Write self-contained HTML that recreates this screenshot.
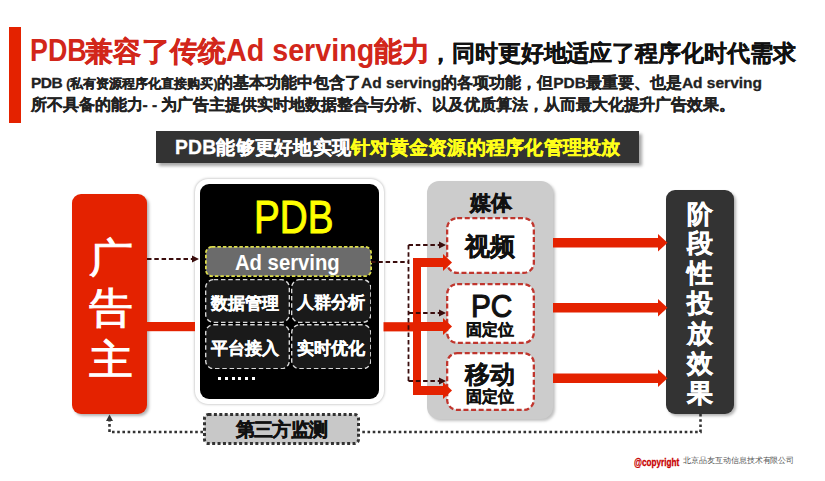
<!DOCTYPE html>
<html><head><meta charset="utf-8">
<style>
*{margin:0;padding:0;box-sizing:border-box}
html,body{width:825px;height:481px;overflow:hidden;background:#fff;font-family:"Liberation Sans",sans-serif}
.a{position:absolute;white-space:nowrap}
#bar{left:9px;top:27px;width:12px;height:96px;background:#e42200}
.tr{font-weight:bold;color:#d2261a;line-height:36px;transform-origin:0 0}
.tc{font-size:28.4px;-webkit-text-stroke:0.4px #d2261a}
#t2{left:429px;top:38px;font-size:23px;line-height:30px;font-weight:bold;color:#111;letter-spacing:-0.1px;-webkit-text-stroke:0.3px #111}
.sub{left:31px;font-size:15.5px;font-weight:bold;color:#222;line-height:20px;-webkit-text-stroke:0.3px #222}
.sub .s{font-size:12.5px;margin:0 -0.5px 0 4px}
#banner{left:156px;top:131px;width:483px;height:32px;background:#333;box-shadow:3px 3px 3px rgba(0,0,0,.35)}
#banner span.t{position:absolute;-webkit-text-stroke:0.3px currentColor;left:19px;top:5px;letter-spacing:0.25px;font-size:19.3px;font-weight:bold;color:#fff;line-height:24px}
#banner .y{color:#ffff19}
#adv{left:72px;top:194px;width:75px;height:220px;background:#e42200;border-radius:9px;box-shadow:2px 2px 3px rgba(0,0,0,.3)}
.advc{left:89px;font-size:41px;color:#fff;line-height:41px;transform:scaleX(1.07);transform-origin:0 0;-webkit-text-stroke:1px #fff}
#pdb{left:195px;top:179px;width:189px;height:225px;background:#fff;border-radius:13px;box-shadow:0 0 3px rgba(0,0,0,.35)}
#pdbi{left:200px;top:184px;width:179px;height:215px;background:#000;border-radius:9px}
#pdbt{left:254px;top:193px;font-size:46px;color:#ffff00;line-height:48px;transform:scaleX(0.84);transform-origin:0 0;-webkit-text-stroke:1px #ffff00}
#ads{left:204px;top:246px;width:167px;height:31px;background:#6b6b6b;border:2px dashed #e6e64a;border-radius:6px}
#adst{left:235px;top:251px;font-size:22.5px;font-weight:bold;color:#fff;line-height:24px;transform:scaleX(0.9);transform-origin:0 0}
.cell{width:85px;height:44px;background:#1a1a1a;border:1.5px dashed #ddd;border-radius:8px}
.cellt{font-size:17px;font-weight:bold;color:#fff;line-height:20px;-webkit-text-stroke:0.3px #fff}
#media{left:427px;top:181px;width:126px;height:238px;background:#cccccc;border-radius:12px;box-shadow:2px 2px 3px rgba(0,0,0,.25)}
#mediat{left:469.5px;top:191.5px;font-size:20.5px;-webkit-text-stroke:0.6px #111;font-weight:bold;color:#111;line-height:22px}
.mc{left:446px;width:89px;background:#fff;border:2.5px dashed #c0362e;border-radius:11px}
.mct{font-weight:bold;color:#111;-webkit-text-stroke:0.35px #111}
#res{left:666px;top:190px;width:68px;height:224px;background:#333;border-radius:9px;box-shadow:2px 2px 3px rgba(0,0,0,.3)}
.resc{left:687px;font-size:26px;font-weight:bold;color:#fff;line-height:26px;-webkit-text-stroke:0.4px #fff}
#mon{left:203px;top:413px;width:157px;height:32px;background:#c8c8c8;border:3px dotted #333;border-radius:4px}
#mont{left:236px;top:419px;font-size:19px;font-weight:bold;color:#111;line-height:22px;-webkit-text-stroke:0.5px #111;letter-spacing:-0.8px}
#copy{left:634px;top:455px;font-size:8px;line-height:12px;color:#555}
#cb{left:634px;top:456px;font-size:10.5px;line-height:12px;font-weight:bold;color:#c80000;transform:scaleX(0.78);transform-origin:0 0;-webkit-text-stroke:0.3px #c80000}
#cn{left:683px;top:456px;font-size:8.2px;line-height:10px;color:#555;letter-spacing:-0.05px}
svg{position:absolute;left:0;top:0}
svg.bx{position:absolute}
</style></head><body>
<div class="a" id="bar"></div>
<div class="a tr" style="left:29.5px;top:31.7px;font-size:30.5px;transform:scaleX(0.88)">PDB</div>
<div class="a tr tc" style="left:85px;top:32.8px;letter-spacing:0.35px">兼容了传统</div>
<div class="a tr" style="left:225.5px;top:31.7px;font-size:30.5px;transform:scaleX(0.94)">Ad serving</div>
<div class="a tr tc" style="left:373.5px;top:32.8px;letter-spacing:0px">能力</div>
<div class="a" id="t2">，同时更好地适应了程序化时代需求</div>
<div class="a sub" style="top:73px"><span style="letter-spacing:-0.5px">PDB</span><span class="s">(私有资源程序化直接购买)</span>的基本功能中包含了Ad serving的各项功能，但PDB最重要、也是Ad serving</div>
<div class="a sub" style="top:95px;letter-spacing:-0.06px">所不具备的能力- - 为广告主提供实时地数据整合与分析、以及优质算法，从而最大化提升广告效果。</div>
<div class="a" id="banner"><span class="t">PDB能够更好地实现<span class="y">针对黄金资源的程序化管理投放</span></span></div>

<div class="a" id="adv"></div>
<div class="a advc" style="top:238px">广</div>
<div class="a advc" style="top:288px">告</div>
<div class="a advc" style="top:340px">主</div>

<div class="a" id="pdb"></div>
<div class="a" id="pdbi"></div>
<div class="a" id="pdbt">PDB</div>
<svg class="bx" style="left:204.5px;top:246px" width="167" height="31"><rect x="0.9" y="0.9" width="165.2" height="29.2" rx="6" fill="#6b6b6b" stroke="#dcdc4c" stroke-width="1.8" stroke-dasharray="3.5,2"/></svg>
<div class="a" id="adst">Ad serving</div>
<svg class="bx" style="left:204.5px;top:278.5px" width="85" height="44"><rect x="0.65" y="0.65" width="83.7" height="42.7" rx="8" fill="#1a1a1a" stroke="#d8d8d8" stroke-width="1.4" stroke-dasharray="4.5,2.8"/></svg>
<svg class="bx" style="left:290.5px;top:278.5px" width="80.5" height="44"><rect x="0.65" y="0.65" width="79.2" height="42.7" rx="8" fill="#1a1a1a" stroke="#d8d8d8" stroke-width="1.4" stroke-dasharray="4.5,2.8"/></svg>
<svg class="bx" style="left:204.5px;top:323.5px" width="85" height="45.5"><rect x="0.7" y="0.7" width="83.6" height="44.1" rx="8" fill="#1a1a1a" stroke="#d8d8d8" stroke-width="1.4" stroke-dasharray="4.5,2.8"/></svg>
<svg class="bx" style="left:290.5px;top:323.5px" width="80.5" height="45.5"><rect x="0.7" y="0.7" width="79.1" height="44.1" rx="8" fill="#1a1a1a" stroke="#d8d8d8" stroke-width="1.4" stroke-dasharray="4.5,2.8"/></svg>
<div class="a cellt" style="left:211px;top:294px">数据管理</div>
<div class="a cellt" style="left:297px;top:293px">人群分析</div>
<div class="a cellt" style="left:211px;top:339px">平台接入</div>
<div class="a cellt" style="left:297px;top:339px">实时优化</div>


<div class="a" style="left:218.0px;top:377px;width:3px;height:3px;background:#fff"></div><div class="a" style="left:224.8px;top:377px;width:3px;height:3px;background:#fff"></div><div class="a" style="left:231.6px;top:377px;width:3px;height:3px;background:#fff"></div><div class="a" style="left:238.4px;top:377px;width:3px;height:3px;background:#fff"></div><div class="a" style="left:245.2px;top:377px;width:3px;height:3px;background:#fff"></div><div class="a" style="left:252.0px;top:377px;width:3px;height:3px;background:#fff"></div>
<div class="a" id="media"></div>
<div class="a" id="mediat">媒体</div>
<svg class="bx" style="left:446px;top:217px" width="89" height="57"><rect x="1.15" y="1.15" width="86.7" height="54.7" rx="10" fill="#fff" stroke="#c0362e" stroke-width="2.3" stroke-dasharray="5,2.6"/></svg>
<svg class="bx" style="left:446px;top:283px" width="89" height="61"><rect x="1.15" y="1.15" width="86.7" height="58.7" rx="10" fill="#fff" stroke="#c0362e" stroke-width="2.3" stroke-dasharray="5,2.6"/></svg>
<svg class="bx" style="left:446px;top:352px" width="89" height="59"><rect x="1.15" y="1.15" width="86.7" height="56.7" rx="10" fill="#fff" stroke="#c0362e" stroke-width="2.3" stroke-dasharray="5,2.6"/></svg>
<div class="a mct" style="left:465px;top:231px;font-size:25px;line-height:30px">视频</div>
<div class="a mct" style="left:471px;top:288.5px;font-size:32px;line-height:34px;font-weight:normal;-webkit-text-stroke:1.1px #111;transform:scaleX(0.93);transform-origin:0 0">PC</div>
<div class="a mct" style="left:466px;top:320.5px;font-size:16px;line-height:18px">固定位</div>
<div class="a mct" style="left:465px;top:360px;font-size:25px;line-height:28px">移动</div>
<div class="a mct" style="left:466px;top:388px;font-size:16px;line-height:18px">固定位</div>

<div class="a" id="res"></div>
<div class="a resc" style="top:200.5px">阶</div>
<div class="a resc" style="top:230.4px">段</div>
<div class="a resc" style="top:260.3px">性</div>
<div class="a resc" style="top:290.2px">投</div>
<div class="a resc" style="top:320.1px">放</div>
<div class="a resc" style="top:350.0px">效</div>
<div class="a resc" style="top:379.9px">果</div>

<svg class="bx" style="left:203px;top:413px" width="157" height="32"><rect x="1.5" y="1.5" width="154" height="29" rx="4" fill="#c8c8c8" stroke="#333" stroke-width="3" stroke-dasharray="3,2.4"/></svg>
<div class="a" id="mont">第三方监测</div>

<svg width="825" height="481">
 <g fill="#e42200">
  <rect x="147" y="322" width="48" height="9.2"/>
  <rect x="383.5" y="322.2" width="34" height="9.2"/>
  <rect x="413" y="258" width="8" height="137"/>
  <rect x="413" y="258" width="31" height="9"/><path d="M443,254 L452,262.5 L443,271 z"/>
  <rect x="413" y="322" width="31" height="9"/><path d="M443,318 L452,326.5 L443,335 z"/>
  <rect x="413" y="386" width="31" height="9"/><path d="M443,382 L452,390.5 L443,399 z"/>
  <rect x="553" y="238" width="106" height="9.5"/><path d="M658,234 L667.5,242.7 L658,251.5 z"/>
  <rect x="553" y="303" width="106" height="9.5"/><path d="M658,299 L667.5,307.7 L658,316.5 z"/>
  <rect x="553" y="373.5" width="106" height="9.5"/><path d="M658,369.5 L667.5,378.2 L658,387 z"/>
 </g>
 <g stroke="#3a0d0d" stroke-width="1.8" fill="none" stroke-dasharray="4.5,2.8">
  <path d="M147,259 H194"/>
  <path d="M371,262 H408.5"/>
  <path d="M408.5,245 V381"/>
  <path d="M408.5,245 H441"/>
  <path d="M408.5,313 H441"/>
  <path d="M408.5,381 H441"/>
 </g>
 <g fill="#3a0d0d"><path d="M192,255.5 L199,259 L192,262.5 z"/><path d="M439,241.5 L446,245 L439,248.5 z"/><path d="M439,309.5 L446,313 L439,316.5 z"/><path d="M439,377.5 L446,381 L439,384.5 z"/></g>
 <g stroke="#333" stroke-width="2.6" fill="none" stroke-dasharray="2.6,2.6">
  <path d="M700.5,414 V432 H360"/>
  <path d="M203,432 H109.5 V420"/>
 </g>
 <path d="M106,421 L109.5,414.5 L113,421 z" fill="#333"/>
</svg>
<div class="a" id="cb">@copyright</div><div class="a" id="cn">北京品友互动信息技术有限公司</div>
</body></html>
